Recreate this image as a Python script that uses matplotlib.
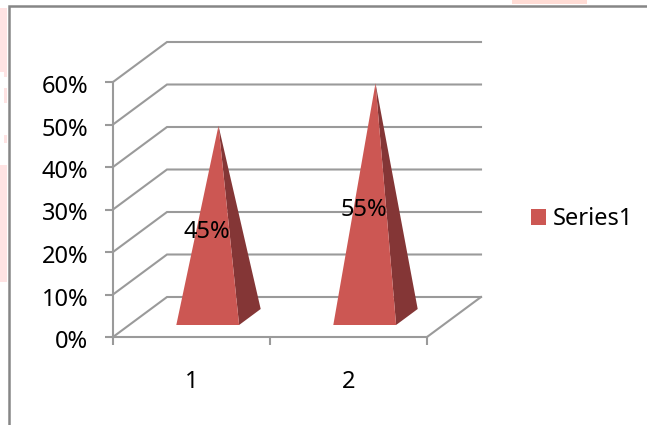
import matplotlib
matplotlib.use("Agg")
import matplotlib.pyplot as plt
from matplotlib.patches import Patch, Rectangle, Polygon
from matplotlib.transforms import ScaledTranslation

plt.rcParams['font.family'] = ['Noto Sans', 'DejaVu Sans']

# chart values
categories = ["1", "2"]
values = [45, 55]
value_labels = ["45%", "55%"]
y_ticks = [0, 10, 20, 30, 40, 50, 60]
y_tick_labels = ["0%", "10%", "20%", "30%", "40%", "50%", "60%"]
series_name = "Series1"

W, H = 647, 425
GRID = "#9a9a9a"
FRONT = "#cc5753"
SIDE = "#843636"
FONT = 17

fig = plt.figure(figsize=(W / 100, H / 100), dpi=100, facecolor="white")

# axes box is the front plane of the 3D box
left, right, bottom, top = 113, 427, 337, 82
ax = fig.add_axes([left / W, 1 - bottom / H, (right - left) / W, (bottom - top) / H])
ax.set_xlim(0, len(categories))
ax.set_ylim(0, 60)
ax.patch.set_alpha(0)

# how far the back wall is shifted from the front plane
depth_x = 54 / 157
depth_y = 40 / 4.25


def project(x, y, d):
    return x + d * depth_x, y + d * depth_y


# gridlines: up the side wall, then along the back wall
for v in y_ticks:
    ax.plot([0, depth_x, len(categories) + depth_x], [v, v + depth_y, v + depth_y],
            color=GRID, lw=1.5, clip_on=False, zorder=1, solid_joinstyle="miter")
# floor edge on the right
ax.plot([len(categories), len(categories) + depth_x], [0, depth_y],
        color=GRID, lw=1.5, clip_on=False, zorder=1)

# pyramids
half_w = 0.2
d_front, d_back, d_apex = 0.3, 0.7, 0.5
for i, v in enumerate(values):
    c = i + 0.5
    fl = project(c - half_w, 0, d_front)
    fr = project(c + half_w, 0, d_front)
    br = project(c + half_w, 0, d_back)
    apex = project(c, v, d_apex)
    ax.add_patch(Polygon([fr, br, apex], closed=True, fc=SIDE, ec="none", clip_on=False, zorder=2))
    ax.add_patch(Polygon([fl, fr, apex], closed=True, fc=FRONT, ec="none", clip_on=False, zorder=3))

# value labels sit on the pyramids
label_heights = [24.6, 29.8]
for i, txt in enumerate(value_labels):
    ax.text(i + 0.5 + 0.1, label_heights[i], txt, ha="center", va="center",
            fontsize=FONT, color="black", zorder=4)

# axes
for s in ["top", "right"]:
    ax.spines[s].set_visible(False)
for s in ["left", "bottom"]:
    ax.spines[s].set_color(GRID)
    ax.spines[s].set_linewidth(1.5)
    ax.spines[s].set_zorder(1)
ax.set_yticks(y_ticks)
ax.set_yticklabels(y_tick_labels, fontsize=FONT, color="black")
ax.set_xticks(range(len(categories) + 1))
ax.set_xticklabels([])
ax.tick_params(axis="both", length=5.8, width=1.5, color=GRID)
ax.tick_params(axis="y", pad=12)
# tick labels sit a little below their ticks
nudge = ScaledTranslation(0, -2 / 100, fig.dpi_scale_trans)
for lab in ax.get_yticklabels():
    lab.set_transform(lab.get_transform() + nudge)
for i, c in enumerate(categories):
    ax.annotate(c, (i + 0.5, 0), xytext=(0, -32.5), textcoords="offset points",
                ha="center", va="center", fontsize=FONT, color="black")

# legend
ax.legend(handles=[Patch(fc=FRONT, ec="none", label=series_name)],
          loc="center left", bbox_to_anchor=(531 / W, 1 - 219 / H),
          bbox_transform=fig.transFigure, frameon=False, borderpad=0, borderaxespad=0,
          fontsize=FONT, handlelength=0.64, handleheight=0.64, handletextpad=0.3)

# faint pink bits of page behind the chart, then the chart border
pink = [(0, 8, 7, 64), (4, 72, 3, 5), (4, 88, 3, 15), (4, 135, 3, 8), (0, 165, 7, 117)]
for x, y, w, h in pink:
    fig.add_artist(Rectangle((x / W, 1 - (y + h) / H), w / W, h / H, transform=fig.transFigure,
                             fc="#ffe3e3", ec="none", zorder=-1))
fig.add_artist(Rectangle((512 / W, 1 - 4 / H), 75 / W, 4 / H, transform=fig.transFigure,
                         fc="#ffdcd5", ec="none", zorder=-1))
fig.add_artist(plt.Line2D([8.5 / W, 8.5 / W, 1], [0, 1 - 5.5 / H, 1 - 5.5 / H], transform=fig.transFigure,
                          color="#868686", lw=1.8, solid_joinstyle="miter"))

fig.savefig("out.png", dpi=100)
